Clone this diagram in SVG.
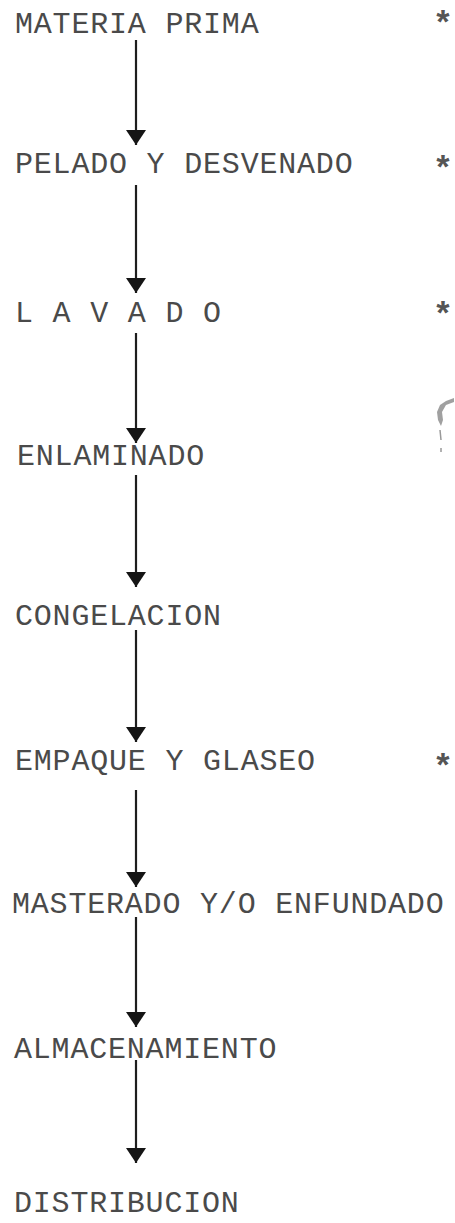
<svg xmlns="http://www.w3.org/2000/svg" width="455" height="1223" viewBox="0 0 455 1223">
<style>
.t{font-family:"Liberation Mono","Courier New",monospace;font-size:30px;letter-spacing:0.8px;fill:#4a4a4a}
.s{font-family:"Liberation Mono","Courier New",monospace;font-size:34px;font-weight:bold;fill:#555;text-anchor:middle}
.c{stroke:#1e1e1e;stroke-width:2.2;fill:none}
</style>
<defs>
<marker id="ah" markerUnits="userSpaceOnUse" markerWidth="16" markerHeight="20" refX="15" refY="10" orient="auto" viewBox="0 0 16 20">
<path d="M0,0 L15,10 L0,20 z" fill="#151515"/>
</marker>
</defs>
<rect width="455" height="1223" fill="#ffffff"/>
<g id="connectors">
<line class="c" x1="136" y1="40" x2="136" y2="145" marker-end="url(#ah)"/>
<line class="c" x1="136" y1="185" x2="136" y2="293" marker-end="url(#ah)"/>
<line class="c" x1="136" y1="333" x2="136" y2="443" marker-end="url(#ah)"/>
<line class="c" x1="136" y1="475" x2="136" y2="587" marker-end="url(#ah)"/>
<line class="c" x1="136" y1="630" x2="136" y2="742" marker-end="url(#ah)"/>
<line class="c" x1="136" y1="790" x2="136" y2="887" marker-end="url(#ah)"/>
<line class="c" x1="136" y1="917" x2="136" y2="1027" marker-end="url(#ah)"/>
<line class="c" x1="136" y1="1060" x2="136" y2="1163" marker-end="url(#ah)"/>
</g>
<g id="n1"><text class="t" x="15" y="33">MATERIA PRIMA</text><text class="s" x="443" y="34">*</text></g>
<g id="n2"><text class="t" x="15" y="173">PELADO Y DESVENADO</text><text class="s" x="443" y="179">*</text></g>
<g id="n3"><text class="t" x="15" y="322">L A V A D O</text><text class="s" x="443" y="325">*</text></g>
<g id="n4"><text class="t" x="17" y="465">ENLAMINADO</text></g>
<g id="n5"><text class="t" x="15" y="625">CONGELACION</text></g>
<g id="n6"><text class="t" x="15" y="770">EMPAQUE Y GLASEO</text><text class="s" x="443" y="777">*</text></g>
<g id="n7"><text class="t" x="12" y="913">MASTERADO Y/O ENFUNDADO</text></g>
<g id="n8"><text class="t" x="14" y="1058">ALMACENAMIENTO</text></g>
<g id="n9"><text class="t" x="14" y="1212">DISTRIBUCION</text></g>
<path d="M454,398 L446,401 L440,405 L437,412 L438,420 L441,426 L443,420 L442,412 L446,405 L454,402 z" fill="#777" opacity="0.7"/>
<path d="M440,430 L441,440 M441,448 L441,452" stroke="#999" stroke-width="1.5"/>
</svg>
